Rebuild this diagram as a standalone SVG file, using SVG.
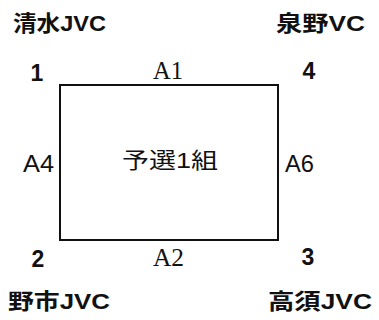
<svg xmlns="http://www.w3.org/2000/svg" width="379" height="320" viewBox="0 0 379 320">
<style>
.team{font-family:"Liberation Sans","Noto Sans CJK JP",sans-serif;font-size:22px;font-weight:bold;fill:#111}
.num{font-family:"Liberation Sans",sans-serif;font-size:23px;font-weight:bold;fill:#111;text-anchor:middle}
.match{font-family:"Liberation Serif",serif;font-size:25px;fill:#111}
.side{font-family:"Liberation Sans",sans-serif;font-size:23px;fill:#111}
.title{font-family:"Liberation Sans","Noto Sans CJK JP",sans-serif;font-size:22px;fill:#111}
.edge{stroke:#111;stroke-width:2;fill:none;stroke-linecap:square}
</style>
<rect width="379" height="320" fill="#fff"/>
<g id="connectors">
<line class="edge" x1="60" y1="85" x2="278" y2="85"/>
<line class="edge" x1="60" y1="240" x2="278" y2="240"/>
<line class="edge" x1="60" y1="85" x2="60" y2="240"/>
<line class="edge" x1="278" y1="85" x2="278" y2="240"/>
<text class="match" x="153" y="79" textLength="30" lengthAdjust="spacingAndGlyphs">A1</text>
<text class="match" x="153" y="266" textLength="31" lengthAdjust="spacingAndGlyphs">A2</text>
<text class="side" x="23" y="172" textLength="31" lengthAdjust="spacingAndGlyphs">A4</text>
<text class="side" x="285" y="172" textLength="29" lengthAdjust="spacingAndGlyphs">A6</text>
</g>
<g id="group1">
<text class="title" x="122" y="168" textLength="96" lengthAdjust="spacingAndGlyphs">予選1組</text>
</g>
<g id="team1">
<text class="team" x="13" y="31" textLength="93" lengthAdjust="spacingAndGlyphs">清水JVC</text>
<text class="num" x="37" y="81">1</text>
</g>
<g id="team4">
<text class="team" x="276" y="31" textLength="89" lengthAdjust="spacingAndGlyphs">泉野VC</text>
<text class="num" x="309" y="79">4</text>
</g>
<g id="team2">
<text class="num" x="38" y="267">2</text>
<text class="team" x="8" y="309" textLength="102" lengthAdjust="spacingAndGlyphs">野市JVC</text>
</g>
<g id="team3">
<text class="num" x="308" y="265">3</text>
<text class="team" x="268" y="309" textLength="104" lengthAdjust="spacingAndGlyphs">高須JVC</text>
</g>
</svg>
